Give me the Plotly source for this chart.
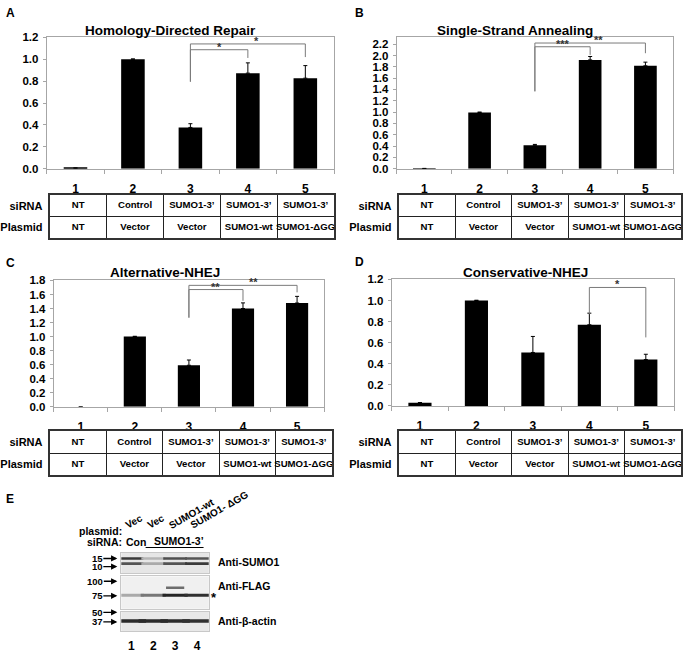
import math
import plotly.graph_objects as go

W, H = 683, 653
FONT = "Liberation Sans, Arial, Helvetica, sans-serif"


def fx(p):
    return p / W


def fy(p):
    return 1 - p / H


# ---------------- data ----------------
bar_positions = [1, 2, 3, 4, 5]
bar_labels = ["1", "2", "3", "4", "5"]
sirna_row = ["NT", "Control", "SUMO1-3’", "SUMO1-3’", "SUMO1-3’"]
plasmid_row = ["NT", "Vector", "Vector", "SUMO1-wt", "SUMO1-ΔGG"]
row_labels = ["Plasmid", "siRNA"]

hdr_values = [0.005, 1.000, 0.377, 0.873, 0.827]
hdr_errors = [0.002, 0.003, 0.034, 0.094, 0.115]
ssa_values = [0.004, 0.993, 0.414, 1.922, 1.818]
ssa_errors = [0.001, 0.008, 0.015, 0.060, 0.064]
alt_values = [0.000, 1.000, 0.592, 1.400, 1.478]
alt_errors = [0.000, 0.005, 0.075, 0.080, 0.095]
cnhej_values = [0.030, 1.000, 0.507, 0.770, 0.440]
cnhej_errors = [0.002, 0.003, 0.152, 0.110, 0.050]

# significance brackets: (from, to, line height, low end at "from", low end at "to", label, label x)
hdr_brackets = [(3, 4, 1.087, 0.795, 1.012, "*", 3.5), (3, 5, 1.140, 0.795, 1.020, "*", 4.15)]
ssa_brackets = [(3, 4, 2.154, 1.367, 2.010, "***", 3.5), (3, 5, 2.220, 1.367, 2.040, "**", 4.15)]
alt_brackets = [(3, 4, 1.670, 1.270, 1.510, "**", 3.5), (3, 5, 1.730, 1.270, 1.630, "**", 4.2)]
cnhej_brackets = [(4, 5, 1.124, 0.870, 0.650, "*", 4.5)]

# western blot (panel E)
blot_lanes = [1, 2, 3, 4]
blot_lane_labels = ["1", "2", "3", "4"]
blot_plasmid = ["Vec", "Vec", "SUMO1-wt", "SUMO1- ΔGG"]
blot_sirna = ["Con", "SUMO1-3’"]
sumo1_markers = [15, 10]
flag_markers = [100, 75]
actin_markers = [50, 37]
sumo1_upper_kda = 15.0
sumo1_upper = [0.85, 0.25, 0.75, 0.72]
sumo1_lower_kda = 11.6
sumo1_lower = [0.72, 0.30, 0.72, 0.85]
flag_main_kda = 76.0
flag_main = [0.30, 0.55, 0.95, 0.90]
flag_conj_kda = 88.0
flag_conj = [0.0, 0.0, 0.60, 0.0]
actin_kda = 38.0
actin_band = [0.92, 0.92, 0.92, 0.90]

panels = [
    dict(letter="A", title="Homology-Directed Repair", values=hdr_values, errors=hdr_errors,
         brackets=hdr_brackets, ymax=1.2, cx=(43, 332), cy=(32, 166), tx=(46, 332), ty=(193, 237),
         title_xy=(167, 25), letter_xy=(0, 7)),
    dict(letter="B", title="Single-Strand Annealing", values=ssa_values, errors=ssa_errors,
         brackets=ssa_brackets, ymax=2.32, cx=(395, 673), cy=(32, 166), tx=(397, 681), ty=(193, 237),
         title_xy=(514, 25), letter_xy=(351, 7)),
    dict(letter="C", title="Alternative-NHEJ", values=alt_values, errors=alt_errors,
         brackets=alt_brackets, ymax=1.8, cx=(50, 322), cy=(280, 409), tx=(46, 330), ty=(434, 479),
         title_xy=(162, 272), letter_xy=(0, 262)),
    dict(letter="D", title="Conservative-NHEJ", values=cnhej_values, errors=cnhej_errors,
         brackets=cnhej_brackets, ymax=1.2, cx=(390, 674), cy=(279, 408), tx=(397, 681), ty=(434, 479),
         title_xy=(525, 272), letter_xy=(351, 261)),
]

fig = go.Figure()
layout = {}
annotations = []
shapes = []
AX_GRAY = "#a6a6a6"


def axname(i):
    return "" if i == 1 else str(i)


for k, p in enumerate(panels):
    ci = 2 * k + 1
    ti = 2 * k + 2
    xa, ya = "x" + axname(ci), "y" + axname(ci)
    xt, yt = "x" + axname(ti), "y" + axname(ti)

    fig.add_trace(go.Bar(
        x=bar_positions, y=p["values"], width=0.41, xaxis=xa, yaxis=ya,
        marker=dict(color="black", line=dict(width=0)),
        error_y=dict(type="data", array=p["errors"], arrayminus=[0] * 5, symmetric=False,
                     color="black", thickness=1, width=2),
        hoverinfo="skip"))

    for (a, b, h, la, lb, lab, lx) in p["brackets"]:
        fig.add_trace(go.Scatter(x=[a, a, b, b], y=[la, h, h, lb], mode="lines",
                                 line=dict(color="#7a7a7a", width=1), xaxis=xa, yaxis=ya,
                                 hoverinfo="skip"))
        annotations.append(dict(x=lx, y=h, xref=xa, yref=ya, text=lab, showarrow=False,
                                yanchor="bottom", yshift=-4, borderpad=0,
                                font=dict(family=FONT, size=11, color="#333333", weight="bold")))

    layout["xaxis" + axname(ci)] = dict(
        domain=[fx(p["cx"][0]), fx(p["cx"][1])], anchor=ya, range=[0.5, 5.5],
        tickmode="array", tickvals=bar_positions, ticktext=bar_labels, ticks="",
        ticklabelstandoff=9,
        tickfont=dict(family=FONT, size=12, color="black", weight="bold"),
        showline=True, linecolor=AX_GRAY, linewidth=1, mirror=True,
        showgrid=False, zeroline=False,
        minor=dict(tickmode="array", tickvals=[0.5, 1.5, 2.5, 3.5, 4.5, 5.5], ticks="outside",
                   ticklen=4, tickcolor=AX_GRAY, showgrid=False))
    layout["yaxis" + axname(ci)] = dict(
        domain=[fy(p["cy"][1]), fy(p["cy"][0])], anchor=xa, range=[0, p["ymax"]],
        dtick=0.2, tick0=0, tickformat=".1f", ticks="outside", ticklen=3, tickcolor=AX_GRAY,
        ticklabelstandoff=2,
        tickfont=dict(family=FONT, size=11.5, color="black", weight="bold"),
        showline=True, linecolor=AX_GRAY, linewidth=1, mirror=True,
        showgrid=False, zeroline=False)

    fig.add_trace(go.Scatter(x=bar_positions, y=[1.5] * 5, text=sirna_row, mode="text",
                             textfont=dict(family=FONT, size=9.6, color="black", weight="bold"),
                             xaxis=xt, yaxis=yt, hoverinfo="skip"))
    fig.add_trace(go.Scatter(x=bar_positions, y=[0.5] * 5, text=plasmid_row, mode="text",
                             textfont=dict(family=FONT, size=9.6, color="black", weight="bold"),
                             xaxis=xt, yaxis=yt, hoverinfo="skip"))
    layout["xaxis" + axname(ti)] = dict(
        domain=[fx(p["tx"][0]), fx(p["tx"][1])], anchor=yt, range=[0.5, 5.5],
        tickmode="array", tickvals=[1.5, 2.5, 3.5, 4.5], showticklabels=False, ticks="",
        showgrid=True, gridcolor="#222", gridwidth=1,
        showline=True, linecolor="#333", linewidth=2, mirror=True, zeroline=False)
    layout["yaxis" + axname(ti)] = dict(
        domain=[fy(p["ty"][1]), fy(p["ty"][0])], anchor=xt, range=[0, 2],
        tickmode="array", tickvals=[0.5, 1.5], ticktext=row_labels, ticks="",
        ticklabelstandoff=3,
        tickfont=dict(family=FONT, size=11, color="black", weight="bold"),
        showgrid=False, zeroline=False,
        minor=dict(tickmode="array", tickvals=[1], showgrid=True, gridcolor="#222", gridwidth=1),
        showline=True, linecolor="#333", linewidth=2, mirror=True)

    annotations.append(dict(x=fx(p["title_xy"][0]), y=fy(p["title_xy"][1]), xref="paper", yref="paper",
                            text=p["title"], showarrow=False, xanchor="center", yanchor="middle",
                            borderpad=0,
                            font=dict(family=FONT, size=13.5, color="black", weight="bold")))
    annotations.append(dict(x=fx(p["letter_xy"][0]), y=fy(p["letter_xy"][1]), xref="paper", yref="paper",
                            text=p["letter"], showarrow=False, xanchor="left", yanchor="middle",
                            font=dict(family=FONT, size=12, color="black", weight="bold")))

# ---------------- panel E : western blot ----------------
annotations.append(dict(x=0, y=fy(503), xref="paper", yref="paper", text="E", showarrow=False,
                        xanchor="left", yanchor="middle",
                        font=dict(family=FONT, size=12, color="black", weight="bold")))

blots = [
    dict(idx=9, y=(558, 579), rng=(0.851, 1.297), bg="#e6e6e6", label="Anti-SUMO1", label_y=567,
         markers=sumo1_markers,
         bands=[(sumo1_upper_kda, sumo1_upper, 17, 2.6), (sumo1_lower_kda, sumo1_lower, 17, 2.6)]),
    dict(idx=10, y=(582, 615), rng=(1.764, 2.042), bg="#f0f0f0", label="Anti-FLAG", label_y=592,
         markers=flag_markers,
         bands=[(flag_main_kda, flag_main, 18, 3.0), (flag_conj_kda, flag_conj, 13, 2.4)]),
    dict(idx=11, y=(618, 638), rng=(1.439, 1.708), bg="#e8e8e8", label="Anti-β-actin", label_y=628,
         markers=actin_markers,
         bands=[(actin_kda, actin_band, 21, 3.6)]),
]


def band_color(v):
    g = int(round(232 - v * 205))
    return "rgb(%d,%d,%d)" % (g, g, g)


for b in blots:
    xi = "x" + str(b["idx"])
    yi = "y" + str(b["idx"])
    for (kda, inten, size, lw) in b["bands"]:
        lx = [l for l, v in zip(blot_lanes, inten) if v > 0]
        lv = [v for v in inten if v > 0]
        fig.add_trace(go.Scatter(
            x=lx, y=[kda] * len(lx), mode="markers", xaxis=xi, yaxis=yi, hoverinfo="skip",
            marker=dict(symbol="line-ew", size=size,
                        line=dict(width=lw, color=[band_color(v) for v in lv]))))
    last = b["idx"] == 11
    layout["xaxis" + str(b["idx"])] = dict(
        domain=[fx(118), fx(206)], anchor=yi, range=[0.538, 4.54],
        tickmode="array", tickvals=blot_lanes, ticktext=blot_lane_labels,
        showticklabels=last, ticks="", ticklabelstandoff=3,
        tickfont=dict(family=FONT, size=12, color="black", weight="bold"),
        showline=True, linecolor="#c8c8c8", linewidth=1, mirror=True,
        showgrid=False, zeroline=False)
    layout["yaxis" + str(b["idx"])] = dict(
        domain=[fy(b["y"][1]), fy(b["y"][0])], anchor=xi, type="log", range=list(b["rng"]),
        showticklabels=False, ticks="", showgrid=False, zeroline=False,
        showline=True, linecolor="#c8c8c8", linewidth=1, mirror=True)
    shapes.append(dict(type="rect", xref=xi + " domain", yref=yi + " domain", x0=0, x1=1, y0=0, y1=1,
                       fillcolor=b["bg"], line=dict(width=0), layer="below"))
    for m in b["markers"]:
        annotations.append(dict(x=fx(114), y=math.log10(m), xref="paper", yref=yi, text=str(m),
                                showarrow=True, ax=-20 if m < 100 else -22, ay=0, axref="pixel",
                                ayref="pixel", arrowhead=2, arrowsize=0.9, arrowwidth=1.4,
                                arrowcolor="black", standoff=0, startstandoff=0, borderpad=0,
                                font=dict(family=FONT, size=9.5, color="black", weight="bold")))
    annotations.append(dict(x=fx(213), y=fy(b["label_y"]), xref="paper", yref="paper", text=b["label"],
                            showarrow=False, xanchor="left", yanchor="middle",
                            font=dict(family=FONT, size=10.5, color="black", weight="bold")))

annotations.append(dict(x=fx(206), y=fy(604), xref="paper", yref="paper", text="*", showarrow=False,
                        xanchor="left", yanchor="middle",
                        font=dict(family=FONT, size=13, color="black", weight="bold")))

for lane, lab in zip(blot_lanes, blot_plasmid):
    annotations.append(dict(x=lane, xshift=-11, y=fy(538), xref="x9", yref="paper", text=lab,
                            showarrow=False, xanchor="left", yanchor="bottom", textangle=-30,
                            font=dict(family=FONT, size=10, color="black", weight="bold")))
annotations.append(dict(x=fx(121), y=fy(536), xref="paper", yref="paper", text="plasmid:",
                        showarrow=False, xanchor="right", yanchor="middle",
                        font=dict(family=FONT, size=10.5, color="black", weight="bold")))
annotations.append(dict(x=fx(121), y=fy(547), xref="paper", yref="paper", text="siRNA:",
                        showarrow=False, xanchor="right", yanchor="middle",
                        font=dict(family=FONT, size=10.5, color="black", weight="bold")))
annotations.append(dict(x=1.2, y=fy(547), xref="x9", yref="paper", text=blot_sirna[0],
                        showarrow=False, xanchor="center", yanchor="middle",
                        font=dict(family=FONT, size=10.5, color="black", weight="bold")))
annotations.append(dict(x=3.2, y=fy(546), xref="x9", yref="paper", text=blot_sirna[1],
                        showarrow=False, xanchor="center", yanchor="middle",
                        font=dict(family=FONT, size=10.5, color="black", weight="bold")))
shapes.append(dict(type="line", xref="x9", yref="paper", x0=1.65, x1=4.3, y0=fy(552.5), y1=fy(552.5),
                   line=dict(color="black", width=1.2)))

layout.update(dict(
    width=W, height=H, margin=dict(l=0, r=0, t=0, b=0), autosize=False,
    paper_bgcolor="white", plot_bgcolor="rgba(0,0,0,0)", showlegend=False,
    annotations=annotations, shapes=shapes, font=dict(family=FONT, color="black"),
))
fig.update_layout(**layout)
fig.write_html("out.html", config={"displayModeBar": False},
               post_script="document.body.style.margin='0';document.body.style.padding='0';"
                           "document.body.style.overflow='hidden';")
